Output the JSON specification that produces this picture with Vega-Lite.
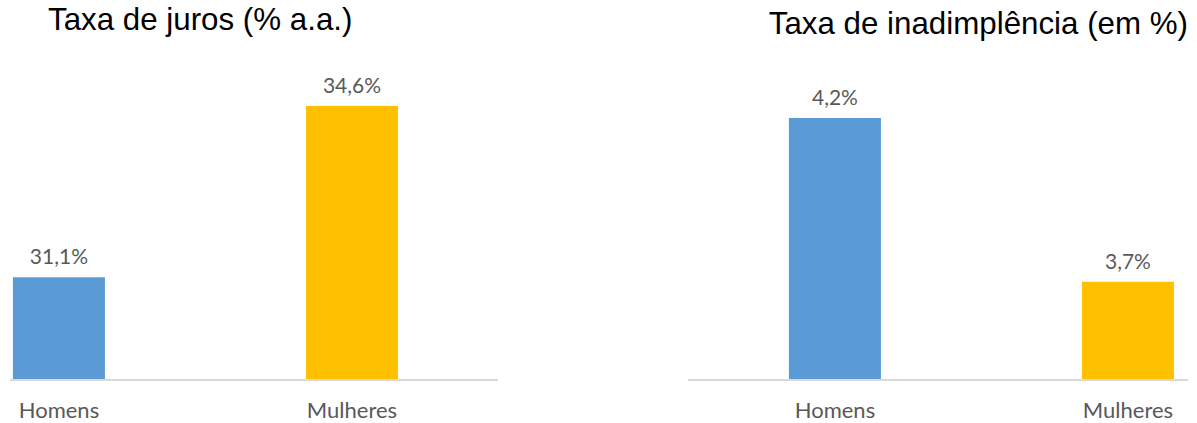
{
  "$schema": "https://vega.github.io/schema/vega-lite/v6.json",
  "background": "white",
  "padding": {"left": 9, "top": 4, "right": 0, "bottom": 0},
  "spacing": 188,
  "config": {
    "view": {"stroke": null},
    "title": {"font": "Liberation Sans", "fontSize": 31.3, "fontWeight": "normal", "color": "#000000", "baseline": "alphabetic", "offset": 40, "frame": "group"},
    "axis": {"labelFont": "Lato", "labelFontSize": 22, "labelColor": "#595959", "ticks": false, "domain": false, "grid": false, "title": null, "labelAngle": 0, "labelBaseline": "alphabetic", "labelPadding": 37}
  },
  "datasets": {
    "juros": [
      {"grupo": "Homens", "valor": 31.1, "rotulo": "31,1%"},
      {"grupo": "Mulheres", "valor": 34.6, "rotulo": "34,6%"}
    ],
    "inad": [
      {"grupo": "Homens", "valor": 4.2, "rotulo": "4,2%"},
      {"grupo": "Mulheres", "valor": 3.7, "rotulo": "3,7%"}
    ]
  },
  "hconcat": [
    {
      "width": 488,
      "height": 300,
      "title": {"text": "Taxa de juros (% a.a.)", "anchor": "start", "dx": 38},
      "data": {"name": "juros"},
      "layer": [
        {
          "mark": {"type": "bar"},
          "encoding": {
            "x": {"field": "grupo", "type": "nominal", "sort": null, "scale": {"range": [0, 390.9], "paddingInner": 0.686, "paddingOuter": 0.01}, "axis": {}},
            "y": {"field": "valor", "type": "quantitative", "scale": {"domain": [29, 35.13], "zero": false, "nice": false}, "axis": null},
            "y2": {"datum": 29},
            "color": {"field": "grupo", "type": "nominal", "scale": {"domain": ["Homens", "Mulheres"], "range": ["#5B9BD5", "#FFC000"]}, "legend": null}
          }
        },
        {
          "mark": {"type": "text", "font": "Lato", "fontSize": 21, "color": "#595959", "baseline": "alphabetic", "dy": -13},
          "encoding": {
            "x": {"field": "grupo", "type": "nominal", "sort": null},
            "y": {"field": "valor", "type": "quantitative"},
            "text": {"field": "rotulo"}
          }
        },
        {
          "data": {"values": [{"b": 29}]},
          "mark": {"type": "rule", "color": "#d9d9d9", "strokeWidth": 2},
          "encoding": {"y": {"field": "b", "type": "quantitative"}}
        }
      ]
    },
    {
      "width": 500,
      "height": 300,
      "title": {"text": "Taxa de inadimplência (em %)", "anchor": "end", "dx": 0},
      "data": {"name": "inad"},
      "layer": [
        {
          "mark": {"type": "bar"},
          "encoding": {
            "x": {"field": "grupo", "type": "nominal", "sort": null, "scale": {"range": [98, 488.9], "paddingInner": 0.686, "paddingOuter": 0.01}, "axis": {}},
            "y": {"field": "valor", "type": "quantitative", "scale": {"domain": [3.4, 4.316], "zero": false, "nice": false}, "axis": null},
            "y2": {"datum": 3.4},
            "color": {"field": "grupo", "type": "nominal", "scale": {"domain": ["Homens", "Mulheres"], "range": ["#5B9BD5", "#FFC000"]}, "legend": null}
          }
        },
        {
          "mark": {"type": "text", "font": "Lato", "fontSize": 21, "color": "#595959", "baseline": "alphabetic", "dy": -13},
          "encoding": {
            "x": {"field": "grupo", "type": "nominal", "sort": null},
            "y": {"field": "valor", "type": "quantitative"},
            "text": {"field": "rotulo"}
          }
        },
        {
          "data": {"values": [{"b": 3.4}]},
          "mark": {"type": "rule", "color": "#d9d9d9", "strokeWidth": 2},
          "encoding": {"y": {"field": "b", "type": "quantitative"}}
        }
      ]
    }
  ],
  "resolve": {"scale": {"color": "shared"}}
}
